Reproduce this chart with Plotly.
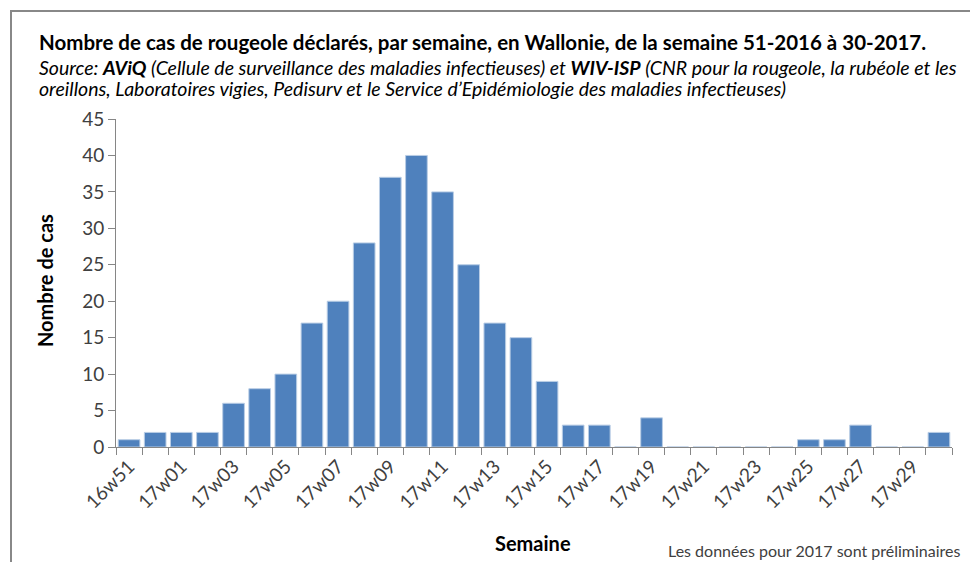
import plotly.graph_objects as go

weeks = ["16w51", "16w52"] + [f"17w{i:02d}" for i in range(1, 31)]
cases = [1, 2, 2, 2, 6, 8, 10, 17, 20, 28, 37, 40, 35, 25, 17, 15, 9, 3, 3, 0,
         4, 0, 0, 0, 0, 0, 1, 1, 3, 0, 0, 2]
tick_text = [w if i % 2 == 0 else "" for i, w in enumerate(weeks)]

title = "Nombre de cas de rougeole déclarés, par semaine, en Wallonie, de la semaine 51-2016 à 30-2017."
src1 = "Source: <b>AViQ</b> (Cellule de surveillance des maladies infectieuses) et <b>WIV-ISP</b> (CNR pour la rougeole, la rubéole et les"
src2 = "oreillons, Laboratoires vigies, Pedisurv et le Service d’Epidémiologie des maladies infectieuses)"
note = "Les données pour 2017 sont préliminaires"

FONT = "Lato"
L, R, T, B = 116, 18, 119, 115
W, H = 970, 562
pw = W - L - R
ph = H - T - B

def px(x):
    return (x - L) / pw

def py(y):
    return (H - B - y) / ph

fig = go.Figure(go.Bar(
    x=weeks, y=cases,
    marker=dict(color="#4F81BD", line=dict(color="#B9CDE5", width=1)),
    hoverinfo="skip",
))

fig.update_layout(
    width=W, height=H,
    margin=dict(l=L, r=R, t=T, b=B, autoexpand=False),
    plot_bgcolor="white", paper_bgcolor="white",
    bargap=0.17,
    showlegend=False,
    font=dict(family=FONT, color="#404040"),
)
fig.update_xaxes(
    type="category",
    tickmode="array", tickvals=weeks, ticktext=tick_text,
    tickson="boundaries", ticks="outside", ticklen=7, tickcolor="#868686",
    tickangle=-45, tickfont=dict(size=19, color="#404040", family=FONT),
    showline=True, linecolor="#868686", linewidth=1,
    showgrid=False, zeroline=False, automargin=False,
)
fig.update_yaxes(
    range=[0, 45], dtick=5, ticks="outside", ticklen=7, tickcolor="#868686",
    tickfont=dict(size=19, color="#404040", family=FONT),
    showline=True, linecolor="#868686", linewidth=1,
    showgrid=False, zeroline=False, automargin=False,
)

ann = [
    dict(text=f"<b>{title}</b>", x=px(37), y=py(42), xanchor="left", yanchor="middle",
         font=dict(size=20.5, color="black", family=FONT)),
    dict(text=f"<i>{src1}</i>", x=px(37), y=py(67), xanchor="left", yanchor="middle",
         font=dict(size=19.5, color="black", family=FONT)),
    dict(text=f"<i>{src2}</i>", x=px(37), y=py(89), xanchor="left", yanchor="middle",
         font=dict(size=19.5, color="black", family=FONT)),
    dict(text="<b>Nombre de cas</b>", x=px(45), y=py(281), textangle=-90,
         xanchor="center", yanchor="middle", font=dict(size=20, color="black", family=FONT)),
    dict(text="<b>Semaine</b>", x=px(533), y=py(543), xanchor="center", yanchor="middle",
         font=dict(size=20, color="black", family=FONT)),
    dict(text=note, x=px(666), y=py(550), xanchor="left", yanchor="middle",
         font=dict(size=16, color="#404040", family=FONT)),
]
for a in ann:
    a.update(xref="paper", yref="paper", showarrow=False)
fig.update_layout(annotations=ann)

fig.add_shape(type="rect", xref="paper", yref="paper",
              x0=px(11), x1=px(990), y0=py(600), y1=py(11),
              line=dict(color="#888888", width=2), fillcolor="rgba(0,0,0,0)", layer="below")

fig.write_html("out.html", config={"displayModeBar": False},
               post_script="document.body.style.margin='0';")
